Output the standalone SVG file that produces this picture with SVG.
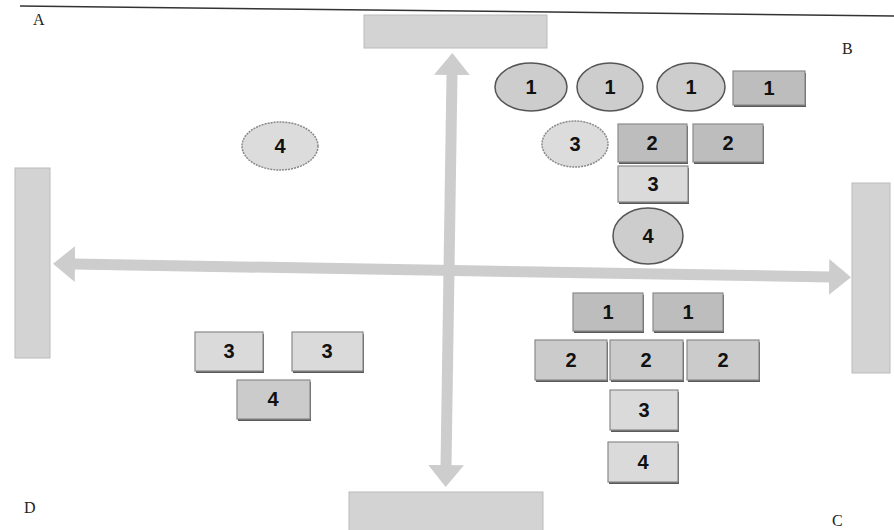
<svg xmlns="http://www.w3.org/2000/svg" width="894" height="530" viewBox="0 0 894 530">
<defs>
<style>
.bg{fill:#ffffff}
.corner{font-family:"Liberation Serif",serif;font-size:16px;fill:#222}
.num{font-family:"Liberation Sans",Arial,sans-serif;font-size:20px;font-weight:bold;fill:#111;text-anchor:middle;dominant-baseline:central}
.ell{fill:#cdcdcd;stroke:#555;stroke-width:1.5}
.ell.light{fill:#dcdcdc;stroke:#888;stroke-dasharray:2 1}
.box{fill:#cbcbcb;stroke:#8a8a8a;stroke-width:1.2}
.box.dark{fill:#bdbdbd}
.box.light{fill:#dadada}
.shadow{fill:#5a5a5a}
.axis{fill:#d3d3d3;stroke:#bbb;stroke-width:1}
.arrow{stroke:#cdcdcd;stroke-width:11;fill:none}
.head{fill:#cdcdcd}
.rule{stroke:#333;stroke-width:1.5}
</style>
<marker id="ah" viewBox="0 0 22 36" markerUnits="userSpaceOnUse" markerWidth="22" markerHeight="36" refX="1" refY="18" orient="auto-start-reverse">
<path class="head" d="M0,0 L22,18 L0,36 z"/>
</marker>
</defs>
<rect class="bg" x="0" y="0" width="894" height="530"/>
<line class="rule" x1="20" y1="6" x2="894" y2="16"/>

<g id="axes">
<rect class="axis" x="364" y="15" width="183" height="33"/>
<rect class="axis" x="15" y="168" width="35" height="190"/>
<rect class="axis" x="852" y="183" width="38" height="190"/>
<rect class="axis" x="349" y="492" width="194" height="40"/>
</g>

<g id="connectors">
<line class="arrow" x1="452" y1="74" x2="446" y2="466" marker-start="url(#ah)" marker-end="url(#ah)"/>
<line class="arrow" x1="74" y1="264" x2="830" y2="277" marker-start="url(#ah)" marker-end="url(#ah)"/>
</g>

<g id="labels">
<text class="corner" x="33" y="25">A</text>
<text class="corner" x="842" y="54">B</text>
<text class="corner" x="832" y="526">C</text>
<text class="corner" x="24" y="513">D</text>
</g>

<g id="b-e1"><ellipse class="ell" cx="531" cy="87" rx="36" ry="24"/><text class="num" x="531" y="87">1</text></g>
<g id="b-e2"><ellipse class="ell" cx="610" cy="87" rx="33" ry="24"/><text class="num" x="610" y="87">1</text></g>
<g id="b-e3"><ellipse class="ell" cx="691" cy="87" rx="34" ry="24"/><text class="num" x="691" y="87">1</text></g>
<g id="b-r1"><rect class="shadow" x="734" y="73" width="72" height="34"/><rect class="box dark" x="733" y="71" width="72" height="34"/><text class="num" x="769" y="88">1</text></g>
<g id="b-e4"><ellipse class="ell light" cx="575" cy="144" rx="33" ry="23"/><text class="num" x="575" y="144">3</text></g>
<g id="b-r2"><rect class="shadow" x="619" y="126" width="69" height="38"/><rect class="box dark" x="618" y="124" width="69" height="38"/><text class="num" x="652" y="143">2</text></g>
<g id="b-r3"><rect class="shadow" x="694" y="126" width="70" height="38"/><rect class="box dark" x="693" y="124" width="70" height="38"/><text class="num" x="728" y="143">2</text></g>
<g id="b-r4"><rect class="shadow" x="619" y="168" width="70" height="36"/><rect class="box light" x="618" y="166" width="70" height="36"/><text class="num" x="653" y="184">3</text></g>
<g id="b-e5"><ellipse class="ell" cx="648" cy="236" rx="35" ry="28"/><text class="num" x="648" y="236">4</text></g>

<g id="a-e1"><ellipse class="ell light" cx="280" cy="146" rx="38" ry="24"/><text class="num" x="280" y="146">4</text></g>

<g id="c-r1"><rect class="shadow" x="574" y="295" width="70" height="38"/><rect class="box dark" x="573" y="293" width="70" height="38"/><text class="num" x="608" y="312">1</text></g>
<g id="c-r2"><rect class="shadow" x="654" y="295" width="70" height="38"/><rect class="box dark" x="653" y="293" width="70" height="38"/><text class="num" x="688" y="312">1</text></g>
<g id="c-r3"><rect class="shadow" x="536" y="342" width="72" height="40"/><rect class="box" x="535" y="340" width="72" height="40"/><text class="num" x="571" y="360">2</text></g>
<g id="c-r4"><rect class="shadow" x="611" y="342" width="73" height="40"/><rect class="box" x="610" y="340" width="73" height="40"/><text class="num" x="646" y="360">2</text></g>
<g id="c-r5"><rect class="shadow" x="688" y="342" width="72" height="40"/><rect class="box" x="687" y="340" width="72" height="40"/><text class="num" x="723" y="360">2</text></g>
<g id="c-r6"><rect class="shadow" x="611" y="392" width="68" height="40"/><rect class="box light" x="610" y="390" width="68" height="40"/><text class="num" x="644" y="410">3</text></g>
<g id="c-r7"><rect class="shadow" x="609" y="444" width="70" height="40"/><rect class="box light" x="608" y="442" width="70" height="40"/><text class="num" x="643" y="462">4</text></g>

<g id="d-r1"><rect class="shadow" x="196" y="334" width="68" height="39"/><rect class="box light" x="195" y="332" width="68" height="39"/><text class="num" x="229" y="351">3</text></g>
<g id="d-r2"><rect class="shadow" x="293" y="334" width="71" height="39"/><rect class="box light" x="292" y="332" width="71" height="39"/><text class="num" x="327" y="351">3</text></g>
<g id="d-r3"><rect class="shadow" x="238" y="382" width="73" height="39"/><rect class="box" x="237" y="380" width="73" height="39"/><text class="num" x="273" y="399">4</text></g>
</svg>
